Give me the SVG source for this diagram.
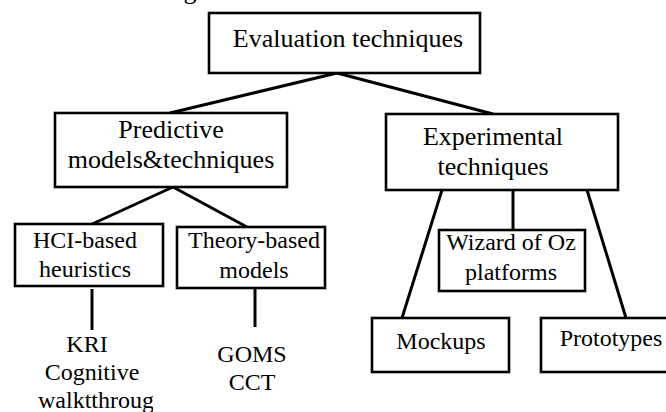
<svg xmlns="http://www.w3.org/2000/svg" width="666" height="412" viewBox="0 0 666 412">
<defs>
<style>
.box{fill:#fff;stroke:#000;stroke-width:2.6}
.ln{stroke:#000;stroke-width:3;fill:none;stroke-linecap:butt}
text{fill:#000;text-anchor:middle;font-family:"Liberation Serif",Tinos,"Times New Roman",Times,"DejaVu Serif","Noto Serif",serif}
.big{font-size:26px}
.mid{font-size:24px}
</style>
<clipPath id="clipW"><rect x="0" y="380" width="153" height="32"/></clipPath>
</defs>
<rect width="666" height="412" fill="#fff"/>
<text class="big" x="190" y="-1">g</text>
<g id="connectors">
<line class="ln" x1="337" y1="73" x2="170" y2="113"/>
<line class="ln" x1="337" y1="73" x2="493" y2="114"/>
<line class="ln" x1="173" y1="187" x2="90" y2="225"/>
<line class="ln" x1="173" y1="187" x2="247" y2="227"/>
<line class="ln" x1="442" y1="190" x2="402" y2="318"/>
<line class="ln" x1="513" y1="190" x2="513" y2="230"/>
<line class="ln" x1="587" y1="190" x2="626" y2="318"/>
<line class="ln" x1="92" y1="289" x2="92" y2="330"/>
<line class="ln" x1="255" y1="289" x2="255" y2="327"/>
</g>
<g id="evaluation">
<rect class="box" x="209" y="13" width="271" height="60"/>
<text class="big" x="348" y="47">Evaluation techniques</text>
</g>
<g id="predictive">
<rect class="box" x="55" y="113" width="232" height="74"/>
<text class="big" x="171" y="138">Predictive</text>
<text class="big" x="171" y="168">models&amp;techniques</text>
</g>
<g id="experimental">
<rect class="box" x="386" y="114" width="232" height="76"/>
<text class="big" x="493" y="145">Experimental</text>
<text class="big" x="493" y="175">techniques</text>
</g>
<g id="hci">
<rect class="box" x="15" y="224" width="148" height="62"/>
<text class="mid" x="85" y="248">HCI-based</text>
<text class="mid" x="85" y="277">heuristics</text>
</g>
<g id="theory">
<rect class="box" x="177" y="227" width="148" height="61"/>
<text class="mid" x="254" y="248">Theory-based</text>
<text class="mid" x="254" y="278">models</text>
</g>
<g id="wizard">
<rect class="box" x="439" y="230" width="146" height="61"/>
<text class="mid" x="511" y="250">Wizard of Oz</text>
<text class="mid" x="511" y="280">platforms</text>
</g>
<g id="mockups">
<rect class="box" x="372" y="318" width="137" height="54"/>
<text class="mid" x="441" y="349">Mockups</text>
</g>
<g id="prototypes">
<rect class="box" x="541" y="318" width="130" height="54"/>
<text class="mid" x="611" y="346">Prototypes</text>
</g>
<g id="kri">
<text class="mid" x="87" y="352">KRI</text>
<text class="mid" x="92" y="380">Cognitive</text>
<text class="mid" x="38" y="408" style="text-anchor:start" clip-path="url(#clipW)">walktthrough</text>
</g>
<g id="goms">
<text class="mid" x="252" y="362">GOMS</text>
<text class="mid" x="252" y="390">CCT</text>
</g>
</svg>
